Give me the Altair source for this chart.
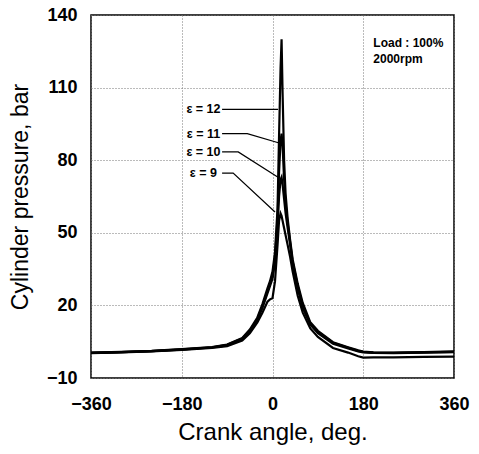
import altair as alt
import pandas as pd

angles = [-360, -300, -240, -180, -120, -90, -60, -45, -30, -20, -10, -5, 0, 5, 10, 13, 16, 18, 20, 23, 26, 30, 35, 40, 50, 60, 75, 90, 120, 150, 170, 180, 200, 240, 300, 360]

p_e9  = [0.3, 0.6, 1.0, 1.6, 2.4, 3.2, 5.5, 8.5, 13, 17, 21.5, 22.5, 23, 30, 45, 55, 58, 57, 55, 52, 49, 45, 40, 34, 24, 17, 10.5, 7, 2.4, 0.5, -1.0, -1.6, -1.5, -1.5, -1.3, -1.2]
p_e10 = [0.4, 0.7, 1.1, 1.7, 2.6, 3.5, 6.0, 9.0, 14, 19, 25, 28, 31, 38, 52, 65, 72, 73, 70, 64, 58, 52, 45, 37, 27, 19, 12, 8.5, 4.2, 2.2, 1.0, 0.6, 0.4, 0.3, 0.5, 0.7]
p_e11 = [0.4, 0.7, 1.1, 1.8, 2.7, 3.7, 6.3, 9.5, 14.5, 19.5, 26, 29, 32, 40, 56, 75, 88, 91, 86, 72, 62, 54, 46, 38, 28, 20, 12.5, 9, 4.6, 2.5, 1.2, 0.8, 0.5, 0.4, 0.6, 0.8]
p_e12 = [0.5, 0.8, 1.2, 1.9, 2.8, 3.8, 6.5, 10, 15, 20.5, 27, 30, 34, 42, 60, 90, 118, 130, 108, 80, 66, 56, 47, 39, 29, 21, 13, 9.5, 4.8, 2.7, 1.4, 0.9, 0.6, 0.5, 0.7, 1.0]

series_names = ["ε = 9", "ε = 10", "ε = 11", "ε = 12"]
series_vals = [p_e9, p_e10, p_e11, p_e12]

label_x = [-137, -137, -137, -137]
label_y = [74.7, 83.4, 91.0, 101.0]

# leader lines (angle, pressure) per label
lead_e9_x = [-100, -78, 5]
lead_e9_y = [74.7, 74.7, 58.6]
lead_e10_x = [-100, -68, 11]
lead_e10_y = [83.4, 83.4, 73]
lead_e11_x = [-100, -50, 15]
lead_e11_y = [91, 91, 87]
lead_e12_x = [-100, 11]
lead_e12_y = [101, 101]

note_lines = ["Load : 100%", "2000rpm"]
note_x = [200, 200]
note_y = [128.5, 122]

x_ticks = [-360, -180, 0, 180, 360]
y_ticks = [-10, 20, 50, 80, 110, 140]

rows = []
for name, vals in zip(series_names, series_vals):
    for a, p in zip(angles, vals):
        rows.append({"angle": a, "p": p, "series": name})
df = pd.DataFrame(rows)

lead_rows = []
for name, xs, ys in zip(series_names,
                        [lead_e9_x, lead_e10_x, lead_e11_x, lead_e12_x],
                        [lead_e9_y, lead_e10_y, lead_e11_y, lead_e12_y]):
    for i, (a, p) in enumerate(zip(xs, ys)):
        lead_rows.append({"angle": a, "p": p, "series": name, "o": i})
lead_df = pd.DataFrame(lead_rows)

lab_df = pd.DataFrame({"angle": label_x, "p": label_y, "text": series_names})
note_df = pd.DataFrame({"angle": note_x, "p": note_y, "text": note_lines})

xscale = alt.Scale(domain=[-360, 360], nice=False, zero=False)
yscale = alt.Scale(domain=[-10, 140], nice=False, zero=False)

xenc = alt.X("angle:Q", scale=xscale,
             axis=alt.Axis(values=x_ticks, title="Crank angle, deg.", ticks=False,
                           domain=False, labelFontSize=18, labelFontWeight="bold",
                           labelPadding=17, titleFontSize=24, titleFontWeight="normal",
                           titlePadding=7, gridDash=[1, 2], gridColor="#777",
                           labelFlush=False))
yenc = alt.Y("p:Q", scale=yscale,
             axis=alt.Axis(values=y_ticks, title="Cylinder pressure, bar", ticks=False,
                           domain=False, labelFontSize=18, labelFontWeight="bold",
                           labelPadding=14, titleFontSize=23, titleFontWeight="normal",
                           titlePadding=14, gridDash=[1, 2], gridColor="#777"))

curves = alt.Chart(df).mark_line(color="black", strokeWidth=2.2).encode(
    x=xenc, y=yenc, detail="series:N", order="angle:Q")

leads = alt.Chart(lead_df).mark_line(color="black", strokeWidth=1.2).encode(
    x="angle:Q", y="p:Q", detail="series:N", order="o:Q")

labels = alt.Chart(lab_df).mark_text(fontSize=12.5, fontWeight="bold", color="black",
                                     align="center", baseline="middle").encode(
    x="angle:Q", y="p:Q", text="text:N")

notes = alt.Chart(note_df).mark_text(fontSize=12, fontWeight="bold", color="black",
                                     align="left", baseline="middle").encode(
    x="angle:Q", y="p:Q", text="text:N")

chart = alt.layer(curves, leads, labels, notes).properties(
    width=363, height=363,
    autosize=alt.AutoSizeParams(type="none"),
    padding={"left": 91, "top": 15, "right": 25, "bottom": 76},
).configure(font="Liberation Sans").configure_view(
    stroke="black", strokeWidth=1.5
)

chart.save("out.html", embed_options={"renderer": "svg", "actions": False})
